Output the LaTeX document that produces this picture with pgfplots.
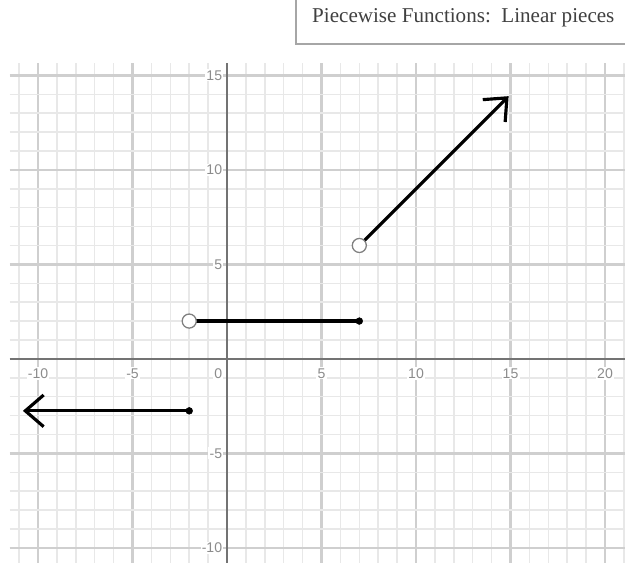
\documentclass[border=0pt]{standalone}
\usepackage{pgfplots}
\pgfplotsset{compat=1.18}
\usepackage{fontspec}
\setmainfont{Liberation Serif}
\newfontfamily\labelfont{Liberation Sans}
\usetikzlibrary{arrows.meta}

\definecolor{minorgrid}{HTML}{E8E8E8}
\definecolor{majorgrid}{HTML}{CFCFCF}
\definecolor{axisgray}{HTML}{737373}
\definecolor{ticktext}{HTML}{8C8C8C}
\definecolor{boxedge}{HTML}{A6A6A6}

\tikzset{ticklab/.style={font=\labelfont\fontsize{12}{14}\selectfont, text=ticktext,
    fill=white, inner sep=1pt}}

\begin{document}
\begin{tikzpicture}
% 1 px of the reference = 0.03cm
\begin{axis}[
    at={(0.29cm,0.12cm)}, anchor=south west,
    x=0.567cm, y=0.567cm,
    xmin=-11.5, xmax=21.1,
    ymin=-10.8, ymax=15.65,
    axis lines=middle,
    axis line style={-, draw=axisgray, line width=1.9pt},
    xtick={-10,-5,0,5,10,15,20},
    ytick={-10,-5,0,5,10,15},
    xticklabels={}, yticklabels={},
    minor xtick={-11,...,21},
    minor ytick={-10,...,15},
    major tick length=0pt, minor tick length=0pt,
    grid=both,
    minor grid style={draw=minorgrid, line width=1.3pt},
    major grid style={draw=majorgrid, line width=2pt},
    clip=false,
]
% tick labels on white patches
\pgfplotsinvokeforeach{-10,-5,5,10,15,20}{
  \node[ticklab, anchor=north, yshift=-7pt] at (axis cs:#1,0) {#1};
}
\pgfplotsinvokeforeach{-10,-5,5,10,15}{
  \node[ticklab, anchor=east, xshift=-3pt] at (axis cs:0,#1) {#1};
}
\node[ticklab, anchor=north east, xshift=-3pt, yshift=-7pt] at (axis cs:0,0) {0};
% left ray
\addplot[black, line width=2.7pt, {Straight Barb[length=0.55cm,width=0.95cm]}-]
    coordinates {(-10.8,-2.75) (-2,-2.75)};
\addplot[only marks, mark=*, mark size=2.9pt, black] coordinates {(-2,-2.75)};
% middle segment
\addplot[black, line width=2.7pt] coordinates {(-2,2) (7,2)};
\addplot[only marks, mark=*, mark size=2.9pt, black] coordinates {(7,2)};
\addplot[only marks, mark=*, mark size=6pt, mark options={fill=white, draw=gray, line width=1.1pt}]
    coordinates {(-2,2)};
% right ray
\addplot[black, line width=2.7pt, -{Straight Barb[length=0.55cm,width=0.95cm]}]
    coordinates {(7,6) (14.9,13.9)};
\addplot[only marks, mark=*, mark size=6pt, mark options={fill=white, draw=gray, line width=1.1pt}]
    coordinates {(7,6)};
\end{axis}
% title box
\fill[white] (8.88cm,15.66cm) rectangle (18.75cm,17.01cm);
\draw[boxedge, line width=2.5pt] (8.88cm,17.01cm) -- (8.88cm,15.69cm) -- (18.75cm,15.69cm);
\node[anchor=base west, inner sep=0pt, text=black!75,
      font=\fontsize{18}{21}\selectfont] at (9.36cm,16.32cm)
      {Piecewise Functions:\ \ Linear pieces};
\pgfresetboundingbox
\useasboundingbox (0,0) rectangle (18.75cm,17.01cm);
\end{tikzpicture}
\end{document}
